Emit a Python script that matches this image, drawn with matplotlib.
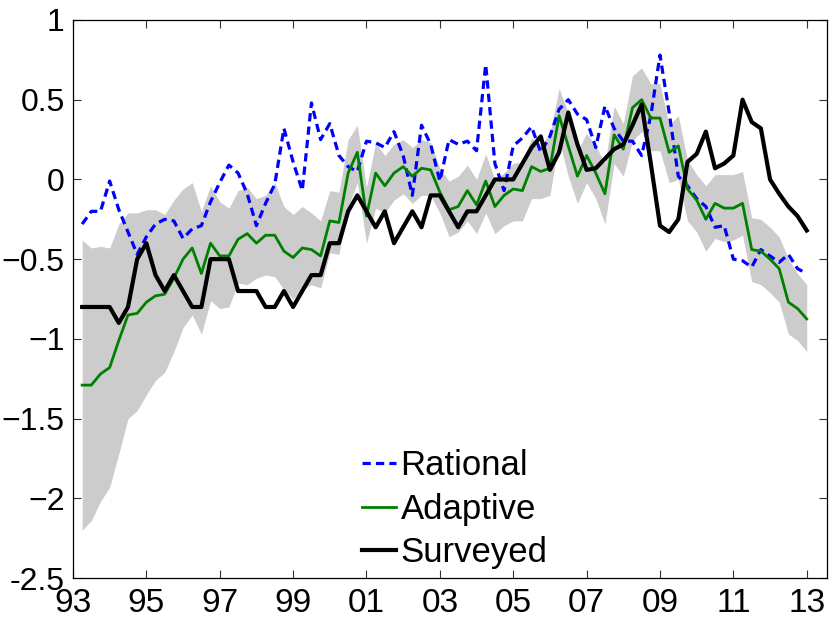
import numpy as np
import matplotlib
matplotlib.use('Agg')
import matplotlib.pyplot as plt

# quarterly observations, 1993Q2 .. 2013Q1
dates = 1993.25 + 0.25 * np.arange(80)

rational = [-0.28, -0.2, -0.2, -0.01, -0.19, -0.33, -0.47, -0.36, -0.28, -0.25,
            -0.26, -0.37, -0.31, -0.29, -0.14, -0.02, 0.09, 0.04, -0.09, -0.29,
            -0.15, -0.03, 0.32, 0.11, -0.07, 0.48, 0.25, 0.35, 0.15, 0.08,
            0.05, 0.24, 0.23, 0.2, 0.3, 0.15, -0.1, 0.34, 0.22, -0.01,
            0.25, 0.22, 0.24, 0.18, 0.72, 0.1, -0.07, 0.21, 0.26, 0.33,
            0.17, 0.27, 0.44, 0.5, 0.41, 0.375, 0.2, 0.46, 0.32, 0.24,
            0.24, 0.15, 0.4, 0.78, 0.42, 0.02, -0.04, -0.12, -0.17, -0.3,
            -0.29, -0.5, -0.51, -0.55, -0.44, -0.48, -0.52, -0.47, -0.56, -0.59]

adaptive = [-1.29, -1.29, -1.22, -1.18, -1.01, -0.85, -0.84, -0.77, -0.73, -0.72,
            -0.62, -0.5, -0.43, -0.59, -0.4, -0.48, -0.48, -0.375, -0.34, -0.4,
            -0.35, -0.35, -0.45, -0.49, -0.43, -0.44, -0.48, -0.26, -0.27, 0.04,
            0.17, -0.23, 0.04, -0.04, 0.04, 0.08, 0.02, 0.07, 0.06, -0.08,
            -0.19, -0.17, -0.07, -0.16, -0.01, -0.17, -0.1, -0.06, -0.07, 0.08,
            0.05, 0.07, 0.4, 0.21, 0.02, 0.15, 0.04, -0.09, 0.28, 0.19,
            0.45, 0.5, 0.385, 0.385, 0.17, 0.21, -0.06, -0.13, -0.25, -0.15,
            -0.18, -0.18, -0.15, -0.44, -0.45, -0.5, -0.56, -0.77, -0.81, -0.875]

surveyed = [-0.8, -0.8, -0.8, -0.8, -0.9, -0.8, -0.5, -0.4, -0.6, -0.7,
            -0.6, -0.7, -0.8, -0.8, -0.5, -0.5, -0.5, -0.7, -0.7, -0.7,
            -0.8, -0.8, -0.7, -0.8, -0.7, -0.6, -0.6, -0.4, -0.4, -0.2,
            -0.1, -0.2, -0.3, -0.2, -0.4, -0.3, -0.2, -0.3, -0.1, -0.1,
            -0.2, -0.3, -0.2, -0.2, -0.1, 0.0, 0.0, 0.0, 0.1, 0.2,
            0.27, 0.06, 0.17, 0.42, 0.22, 0.06, 0.07, 0.13, 0.19, 0.22,
            0.34, 0.47, 0.1, -0.29, -0.33, -0.25, 0.11, 0.16, 0.3, 0.07,
            0.1, 0.15, 0.5, 0.36, 0.32, 0.0, -0.09, -0.17, -0.23, -0.32]

band_upper = [-0.38, -0.43, -0.42, -0.43, -0.28, -0.21, -0.21, -0.19, -0.19, -0.22,
              -0.13, -0.06, -0.02, -0.2, -0.04, -0.14, -0.18, -0.07, -0.05, -0.12,
              -0.1, -0.02, -0.17, -0.22, -0.17, -0.21, -0.26, -0.07, -0.08, 0.25,
              0.34, -0.05, 0.23, 0.15, 0.22, 0.25, 0.2, 0.25, 0.23, 0.07,
              -0.01, 0.02, 0.09, 0.0, 0.16, 0.0, 0.04, 0.1, 0.11, 0.26,
              0.21, 0.29, 0.57, 0.42, 0.18, 0.29, 0.21, 0.1, 0.46, 0.35,
              0.65, 0.7, 0.6, 0.6, 0.34, 0.4, 0.12, 0.03, -0.04, 0.03,
              0.03, 0.03, 0.05, -0.24, -0.25, -0.3, -0.36, -0.5, -0.59, -0.66]

band_lower = [-2.2, -2.14, -2.02, -1.93, -1.72, -1.5, -1.45, -1.35, -1.26, -1.21,
              -1.08, -0.93, -0.85, -0.97, -0.76, -0.81, -0.8, -0.65, -0.66, -0.62,
              -0.6, -0.61, -0.69, -0.75, -0.69, -0.66, -0.68, -0.46, -0.47, -0.17,
              -0.02, -0.4, -0.18, -0.21, -0.13, -0.09, -0.15, -0.1, -0.1, -0.21,
              -0.36, -0.33, -0.26, -0.34, -0.21, -0.34, -0.29, -0.26, -0.26, -0.12,
              -0.12, -0.1, 0.25, 0.02, -0.15, -0.02, -0.12, -0.28, 0.1, 0.02,
              0.24, 0.3, 0.18, 0.18, -0.02, 0.0, -0.26, -0.33, -0.45, -0.37,
              -0.39, -0.38, -0.35, -0.64, -0.66, -0.71, -0.77, -0.97, -1.01, -1.08]

xtick_years = list(range(1993, 2014, 2))
xtick_labels = ['93', '95', '97', '99', '01', '03', '05', '07', '09', '11', '13']
ytick_vals = [-2.5, -2, -1.5, -1, -0.5, 0, 0.5, 1]
ytick_labels = ['-2.5', '\u22122', '\u22121.5', '\u22121', '\u22120.5', '0', '0.5', '1']

plt.rcParams['font.family'] = ['Liberation Sans', 'DejaVu Sans']

fig = plt.figure(figsize=(8.34, 6.19), dpi=100)
ax = fig.add_axes([0.0875, 0.0662, 0.904, 0.9015])

ax.fill_between(dates, band_lower, band_upper, color='#cccccc', linewidth=0)
ax.plot(dates, rational, color='#0000ff', linewidth=2.3, linestyle=(0, (2.6, 1.6)),
        label='Rational')
ax.plot(dates, adaptive, color='#008000', linewidth=2.0, label='Adaptive')
ax.plot(dates, surveyed, color='black', linewidth=3.0, label='Surveyed')

ax.set_xlim(1993, 2013.55)
ax.set_ylim(-2.5, 1)
ax.set_xticks(xtick_years)
ax.set_xticklabels(xtick_labels)
ax.set_yticks(ytick_vals)
ax.set_yticklabels(ytick_labels)
ax.tick_params(direction='in', length=6, width=0.8, color='#333333',
               top=True, right=True, labelsize=24, pad=7)
ax.tick_params(axis='y', labelsize=23, pad=6)
for s in ax.spines.values():
    s.set_linewidth(0.9)

ax.legend(loc='lower left', bbox_to_anchor=(0.383, 0.016), frameon=False,
          fontsize=25, handlelength=1.0, handletextpad=0.12,
          labelspacing=0.3, borderpad=0, borderaxespad=0)

fig.savefig('out.png', dpi=100)
